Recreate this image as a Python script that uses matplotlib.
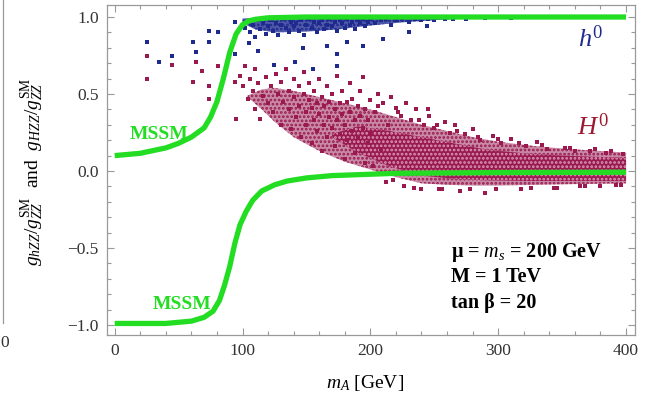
import numpy as np
import matplotlib
matplotlib.use("Agg")
import matplotlib.pyplot as plt
from matplotlib.lines import Line2D

plt.rcParams['font.family'] = ['Liberation Serif', 'DejaVu Serif']
plt.rcParams['mathtext.fontset'] = 'custom'
plt.rcParams['mathtext.rm'] = 'Liberation Serif'
plt.rcParams['mathtext.it'] = 'Liberation Serif:italic'
plt.rcParams['mathtext.bf'] = 'Liberation Serif:bold'
plt.rcParams['hatch.linewidth'] = 1.3

# ---- data ----
# MSSM curves
mssm_up_x = [0, 20, 40, 50, 60, 70, 75, 80, 85, 90, 95, 100, 105, 110, 120, 150, 250, 400]
mssm_up_y = [0.10, 0.115, 0.15, 0.18, 0.22, 0.28, 0.35, 0.45, 0.60, 0.77, 0.89, 0.95, 0.975, 0.985,
             0.995, 1.0, 1.0, 1.0]
mssm_lo_x = [0, 40, 60, 70, 77, 82, 86, 90, 94, 98, 103, 108, 115, 125, 135, 150, 170, 220, 300, 400]
mssm_lo_y = [-0.99, -0.99, -0.975, -0.95, -0.91, -0.84, -0.74, -0.62, -0.47, -0.35, -0.26, -0.19,
             -0.13, -0.09, -0.065, -0.045, -0.03, -0.015, -0.01, -0.008]

# dense parts of the scan (envelopes)
h_core_x = [100, 110, 125, 150, 175, 200, 225, 250, 275, 300, 400]
h_core_lo = [0.96, 0.92, 0.90, 0.905, 0.92, 0.945, 0.965, 0.98, 0.99, 0.995, 0.995]
h_core_hi = [0.99, 0.995, 0.995, 1.0, 1.0, 1.0, 1.0, 1.0, 1.0, 1.0, 1.0]

H_mid_x = [104, 115, 125, 140, 160, 180, 200, 220, 240, 260, 280, 300, 330, 360, 400]
H_mid_lo = [0.48, 0.40, 0.32, 0.22, 0.13, 0.06, 0.01, -0.04, -0.08, -0.09, -0.095, -0.095, -0.09,
            -0.085, -0.08]
H_mid_hi = [0.49, 0.53, 0.54, 0.52, 0.48, 0.44, 0.40, 0.35, 0.30, 0.26, 0.22, 0.19, 0.16, 0.14, 0.12]

H_core_x = [170, 190, 215, 240, 265, 290, 320, 350, 400]
H_core_lo = [0.22, 0.12, 0.03, -0.03, -0.05, -0.06, -0.065, -0.065, -0.065]
H_core_hi = [0.24, 0.29, 0.26, 0.22, 0.18, 0.14, 0.115, 0.10, 0.085]

# scattered scan points, h0
h_x = [25, 35, 45, 61, 64, 74, 74, 81, 94, 94,
       102, 104, 106, 108, 110, 112, 114, 116, 118, 120,
       122, 124, 126, 128, 130, 132, 134, 136, 138, 140,
       142, 144, 146, 148, 150, 152, 154, 156, 158, 160,
       162, 164, 166, 168, 170, 172, 174, 176, 178, 180,
       182, 184, 186, 188, 190, 192, 194, 196, 198, 200,
       204, 208, 212, 216, 220, 225, 230, 235, 240, 245, 250, 258, 265, 275, 290, 310,
       105, 112, 125, 141, 147, 155, 166, 174, 174, 182, 194, 210, 244, 230]
h_y = [0.84, 0.71, 0.75, 0.84, 0.77, 0.91, 0.84, 0.90, 0.97, 0.76,
       0.93, 0.97, 0.90, 0.95, 0.87, 0.98, 0.92, 0.96, 0.89, 0.94,
       0.98, 0.91, 0.96, 0.88, 0.95, 0.99, 0.93, 0.90, 0.97, 0.94,
       0.96, 0.91, 0.98, 0.88, 0.95, 0.99, 0.93, 0.97, 0.90, 0.96,
       0.98, 0.92, 0.95, 0.99, 0.94, 0.97, 0.91, 0.98, 0.96, 0.93,
       0.99, 0.95, 0.97, 0.92, 0.98, 0.96, 0.99, 0.94, 0.97, 0.99,
       0.96, 0.98, 0.99, 0.95, 0.98, 0.99, 0.97, 0.99, 0.98, 0.99, 0.98, 0.99, 0.99, 0.99, 0.995, 0.995,
       0.83, 0.78, 0.69, 0.71, 0.80, 0.66, 0.81, 0.76, 0.68, 0.84, 0.81, 0.86, 0.94, 0.90]

# scattered scan points, H0
H_x = [25, 25, 45, 61, 64, 68, 74, 74, 81, 81, 90, 94, 95,
       98, 100, 102, 104, 106, 108, 110, 110, 112, 114, 116, 118, 120, 122, 124, 126, 128, 130,
       130, 132, 134, 136, 136, 138, 140, 140, 142, 144, 144, 146, 148, 148, 150, 150, 152, 152,
       154, 154, 156, 156, 158, 158, 160, 160, 162, 162, 164, 164, 166, 166, 168, 168, 170, 170,
       172, 172, 174, 174, 176, 176, 178, 178, 180, 180, 182, 182, 184, 184, 186, 186, 188, 188,
       190, 190, 192, 192, 194, 194, 196, 196, 198, 198, 200, 200, 202, 204, 206, 208, 210, 212,
       214, 216, 218, 220, 224, 226, 228, 232, 236, 240, 242, 246, 250, 254, 258, 262, 266, 270,
       274, 280, 286, 290, 296, 302, 310, 318, 322, 330, 338, 346, 352, 360, 368, 376, 384, 392, 398,
       245, 194, 206, 222, 238, 252, 268, 284, 300, 316, 334, 356, 372, 388,
       212, 234, 256, 278, 298, 326, 344, 364, 380, 396]
H_y = [0.75, 0.60, 0.69, 0.58, 0.71, 0.65, 0.55, 0.47, 0.68, 0.47, 0.77, 0.58, 0.34,
       0.62, 0.55, 0.68, 0.47, 0.60, 0.52, 0.40, 0.66, 0.57, 0.34, 0.49, 0.61, 0.44, 0.55, 0.38, 0.63, 0.50, 0.30,
       0.58, 0.45, 0.66, 0.40, 0.52, 0.27, 0.48, 0.60, 0.35, 0.55, 0.42, 0.22, 0.50, 0.64, 0.38, 0.30, 0.46, 0.57,
       0.18, 0.41, 0.33, 0.52, 0.44, 0.26, 0.60, 0.37, 0.48, 0.13, 0.30, 0.42, 0.55, 0.22, 0.35, 0.45, 0.28, 0.50,
       0.40, 0.16, 0.33, 0.62, 0.44, 0.24, 0.37, 0.52, 0.30, 0.08, 0.45, 0.20, 0.38, 0.57, 0.26, 0.47, 0.33, 0.12,
       0.42, 0.22, 0.36, 0.52, 0.61, 0.28, 0.05, 0.40, 0.18, 0.33, 0.46, 0.25, 0.03, 0.38, 0.50, 0.14, 0.44, -0.02,
       0.30, 0.48, -0.06, 0.41, 0.36, -0.10, 0.44, 0.33, 0.40, -0.12, 0.30, 0.36, 0.28, -0.12, 0.32, 0.25, 0.30, -0.13,
       0.24, 0.27, 0.20, -0.14, 0.23, 0.18, 0.21, -0.12, 0.16, 0.19, 0.14, -0.11, 0.15, 0.13, -0.10, 0.14, 0.12, -0.09, 0.11,
       0.40, 0.61, 0.42, 0.38, 0.33, 0.30, 0.26, 0.22, 0.21, 0.18, 0.17, 0.15, 0.13, 0.13,
       -0.07, -0.11, -0.12, -0.12, -0.12, -0.11, -0.11, -0.10, -0.10, -0.09]

# axis ticks
x_ticks = [0, 100, 200, 300, 400]
y_ticks = [-1.0, -0.5, 0.0, 0.5, 1.0]
y_tick_labels = ['\u22121.0', '\u22120.5', '0.0', '0.5', '1.0']

green = '#22dd22'
maroon = '#9a1a50'
navy = '#1f2a8e'
frame = '#999999'

fig = plt.figure(figsize=(6.51, 4.01), dpi=100)
ax = fig.add_axes([107 / 651, 1 - 335 / 401, 528 / 651, 330 / 401])

# dense parts of the scan, drawn as dotted bands
ax.fill_between(H_mid_x, H_mid_lo, H_mid_hi, facecolor='#c98aa6', edgecolor=maroon,
                hatch='....', linewidth=0, zorder=1)
ax.fill_between(H_core_x, H_core_lo, H_core_hi, facecolor=maroon, edgecolor='#d99ab6',
                hatch='....', linewidth=0, zorder=1)
ax.fill_between(h_core_x, h_core_lo, h_core_hi, facecolor='#5058a8', edgecolor=navy,
                hatch='....', linewidth=0, zorder=1)

ax.scatter(H_x, H_y, s=6, marker='s', color=maroon, linewidths=0, zorder=2)
ax.scatter(h_x, h_y, s=6, marker='s', color=navy, linewidths=0, zorder=2)

ax.plot(mssm_up_x, mssm_up_y, color=green, lw=3.8, solid_capstyle='butt', zorder=3)
ax.plot(mssm_lo_x, mssm_lo_y, color=green, lw=3.8, solid_capstyle='butt', zorder=3)

ax.set_xlim(-6, 407)
ax.set_ylim(-1.065, 1.078)
ax.set_xticks(x_ticks)
ax.set_yticks(y_ticks)
ax.set_xticklabels([str(t) for t in x_ticks])
ax.set_yticklabels(y_tick_labels)
ax.set_xticks(np.arange(0, 401, 20), minor=True)
ax.set_yticks(np.arange(-1.0, 1.01, 0.1), minor=True)
ax.tick_params(which='both', direction='in', top=True, right=True, color=frame,
               labelsize=12.5, labelcolor='#333333', width=0.8)
ax.tick_params(which='major', length=5, pad=6)
ax.tick_params(which='minor', length=3)
for s in ax.spines.values():
    s.set_color(frame)
    s.set_linewidth(0.9)

ax.text(35, 0.24, 'MSSM', color=green, fontsize=14, fontweight='bold', ha='center', va='center')
ax.text(53, -0.87, 'MSSM', color=green, fontsize=14, fontweight='bold', ha='center', va='center')
ax.text(372, 0.86, r'$h^0$', color=navy, fontsize=19, ha='center', va='center')
ax.text(374, 0.29, r'$H^0$', color='#9a1a30', fontsize=19, ha='center', va='center')

ax.text(263, -0.53, '\u03bc = $m_s$ = 200 GeV', fontsize=14.5, fontweight='bold', va='center')
ax.text(263, -0.69, 'M = 1 TeV', fontsize=14.5, fontweight='bold', va='center')
ax.text(263, -0.86, 'tan \u03b2 = 20', fontsize=14.5, fontweight='bold', va='center')

fig.text(365 / 651, 1 - 383 / 401, r'$m_A$ [GeV]', fontsize=14, ha='center', va='center')
fig.text(33 / 651, 1 - 172 / 401,
         r'$g_{hZZ}/g_{ZZ}^{\rm SM}$  and  $g_{HZZ}/g_{ZZ}^{\rm SM}$',
         fontsize=14, rotation=90, ha='center', va='center')

# edge of the neighbouring panel
fig.add_artist(Line2D([3 / 651, 3 / 651], [1 - 323 / 401, 1.0], color=frame, lw=0.9))
fig.text(0.5 / 651, 1 - 343 / 401, '0', fontsize=12.5, color='#333333', ha='left', va='center')

fig.savefig('out.png', dpi=100)
